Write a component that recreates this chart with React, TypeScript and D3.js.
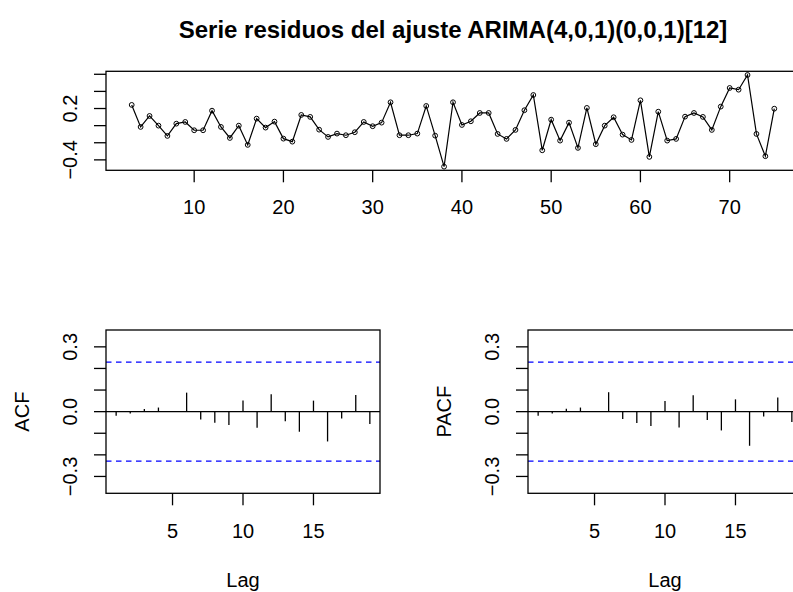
import React from "react";
import * as d3 from "d3";

const W = 793;
const H = 592;

const titleText = "Serie residuos del ajuste ARIMA(4,0,1)(0,0,1)[12]";
const startTime = 3;
const residuals = [
  0.242, -0.015, 0.113, 0.0, -0.12, 0.023, 0.043, -0.054, -0.054, 0.175, -0.015, -0.144, 0.0, -0.225, 0.082, -0.023, 0.047, -0.152,
  -0.187, 0.125, 0.102, -0.047, -0.132, -0.093, -0.112, -0.077, 0.043, -0.007, 0.035, 0.273, -0.112, -0.112, -0.093, 0.23, -0.117, -0.479, 0.273, 0.008, 0.051,
  0.148, 0.148, -0.097, -0.155, -0.05, 0.18, 0.358, -0.288, 0.07, -0.175, 0.035, -0.26, 0.207, -0.217, 0.0, 0.098, -0.105, -0.167, 0.296, -0.365, 0.163,
  -0.175, -0.155, 0.105, 0.148, 0.102, -0.05, 0.222, 0.44, 0.42, 0.592, -0.097, -0.357, 0.198,
];
const timeTicks = [10, 20, 30, 40, 50, 60, 70];
const resYTicks = [-0.4, -0.2, 0, 0.2, 0.4, 0.6];
const resYLabels = [-0.4, 0.2];

const lags = [1, 2, 3, 4, 5, 6, 7, 8, 9, 10, 11, 12, 13, 14, 15, 16, 17, 18, 19];
const acfValues = [-0.019, -0.008, 0.012, 0.019, 0.002, 0.088, -0.036, -0.051, -0.062, 0.052, -0.074, 0.08, -0.045, -0.093, 0.051, -0.138, -0.032, 0.077, -0.057];
const pacfValues = [-0.019, -0.008, 0.014, 0.019, 0.003, 0.09, -0.034, -0.053, -0.066, 0.049, -0.073, 0.076, -0.039, -0.087, 0.057, -0.158, -0.022, 0.065, -0.048];
const confLimit = 0.2294;
const lagTicks = [5, 10, 15];
const corYTicks = [-0.3, -0.2, -0.1, 0, 0.1, 0.2, 0.3];
const corYLabels = [-0.3, 0, 0.3];

const FONT = "'Liberation Sans', Arial, Helvetica, sans-serif";
const FS = 20;
const TICK = 12;
const LW = 1.3;

const fmt = (v: number, digits: number) => {
  const s = Math.abs(v).toFixed(digits);
  return (v < 0 ? "\u2212" : "") + s;
};

function ResidualPlot() {
  const left = 106, right = 800, top = 71.3, bottom = 170.3;
  const times = residuals.map((_, i) => startTime + i);
  const [tMin, tMax] = d3.extent(times) as [number, number];
  const [vMin, vMax] = d3.extent(residuals) as [number, number];
  const tPad = (tMax - tMin) * 0.04;
  const vPad = (vMax - vMin) * 0.04;
  const x = d3.scaleLinear().domain([tMin - tPad, tMax + tPad]).range([left, right]);
  const y = d3.scaleLinear().domain([vMin - vPad, vMax + vPad]).range([bottom, top]);
  const line = d3
    .line<number>()
    .x((_, i) => x(times[i]))
    .y((d) => y(d));
  return (
    <g>
      <path d={line(residuals) || ""} fill="none" stroke="black" strokeWidth={1.2} />
      {residuals.map((v, i) => (
        <circle key={i} cx={x(times[i])} cy={y(v)} r={2.4} fill="none" stroke="black" strokeWidth={1} />
      ))}
      <rect x={left} y={top} width={right - left} height={bottom - top} fill="none" stroke="black" strokeWidth={LW} />
      {timeTicks.map((t) => (
        <g key={t}>
          <line x1={x(t)} x2={x(t)} y1={bottom} y2={bottom + TICK} stroke="black" strokeWidth={LW} />
          <text x={x(t)} y={bottom + 43.5} textAnchor="middle" fontSize={FS} fontFamily={FONT}>
            {t}
          </text>
        </g>
      ))}
      {resYTicks.map((v) => (
        <line key={v} x1={left - TICK} x2={left} y1={y(v)} y2={y(v)} stroke="black" strokeWidth={LW} />
      ))}
      {resYLabels.map((v) => (
        <text
          key={v}
          transform={`translate(${left - 29},${y(v)}) rotate(-90)`}
          textAnchor="middle"
          fontSize={FS}
          fontFamily={FONT}
        >
          {fmt(v, 1)}
        </text>
      ))}
    </g>
  );
}

function CorrPlot({ left, values, ylab }: { left: number; values: number[]; ylab: string }) {
  const right = left + 274;
  const top = 330, bottom = 493.3;
  const [lMin, lMax] = d3.extent(lags) as [number, number];
  const lPad = (lMax - lMin) * 0.04;
  const x = d3.scaleLinear().domain([lMin - lPad, lMax + lPad]).range([left, right]);
  const y = d3.scaleLinear().domain([-0.378, 0.378]).range([bottom, top]);
  return (
    <g>
      <line x1={left} x2={right} y1={y(0)} y2={y(0)} stroke="black" strokeWidth={LW} />
      {values.map((v, i) => (
        <line key={i} x1={x(lags[i])} x2={x(lags[i])} y1={y(0)} y2={y(v)} stroke="black" strokeWidth={LW} />
      ))}
      {[confLimit, -confLimit].map((c) => (
        <line key={c} x1={left} x2={right} y1={y(c)} y2={y(c)} stroke="#0000ff" strokeWidth={1.3} strokeDasharray="5.5,4.5" />
      ))}
      <rect x={left} y={top} width={right - left} height={bottom - top} fill="none" stroke="black" strokeWidth={LW} />
      {lagTicks.map((t) => (
        <g key={t}>
          <line x1={x(t)} x2={x(t)} y1={bottom} y2={bottom + TICK} stroke="black" strokeWidth={LW} />
          <text x={x(t)} y={bottom + 44.5} textAnchor="middle" fontSize={FS} fontFamily={FONT}>
            {t}
          </text>
        </g>
      ))}
      {corYTicks.map((v) => (
        <line key={v} x1={left - TICK} x2={left} y1={y(v)} y2={y(v)} stroke="black" strokeWidth={LW} />
      ))}
      {corYLabels.map((v) => (
        <text
          key={v}
          transform={`translate(${left - 29},${y(v)}) rotate(-90)`}
          textAnchor="middle"
          fontSize={FS}
          fontFamily={FONT}
        >
          {fmt(v, 1)}
        </text>
      ))}
      <text x={(left + right) / 2} y={bottom + 94} textAnchor="middle" fontSize={FS} fontFamily={FONT}>
        Lag
      </text>
      <text
        transform={`translate(${left - 77},${(top + bottom) / 2}) rotate(-90)`}
        textAnchor="middle"
        fontSize={FS}
        fontFamily={FONT}
      >
        {ylab}
      </text>
    </g>
  );
}

export default function App() {
  return (
    <svg
      width={W}
      height={H}
      viewBox={`0 0 ${W} ${H}`}
      style={{ position: "absolute", left: 0, top: 0, background: "white", overflow: "hidden" }}
    >
      <rect x={0} y={0} width={W} height={H} fill="white" />
      <text x={453} y={38} textAnchor="middle" fontSize={24} fontWeight="bold" fontFamily={FONT}>
        {titleText}
      </text>
      <ResidualPlot />
      <CorrPlot left={106} values={acfValues} ylab="ACF" />
      <CorrPlot left={528} values={pacfValues} ylab="PACF" />
    </svg>
  );
}
